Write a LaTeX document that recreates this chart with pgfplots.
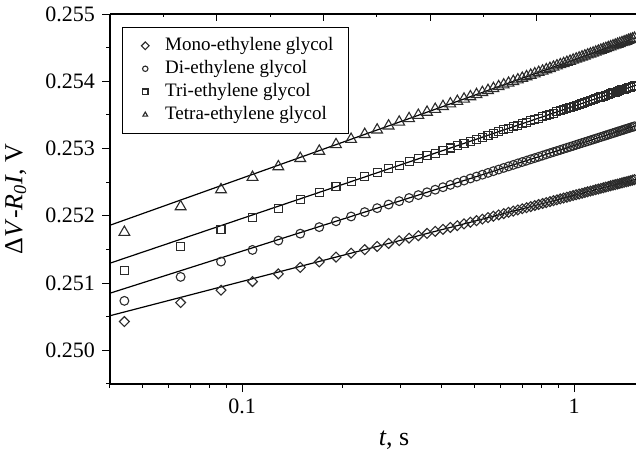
\documentclass[border=0pt]{standalone}
\usepackage{fontspec}
\setmainfont{Liberation Serif}
\usepackage{pgfplots}
\usepackage{pgfplotstable}
\pgfplotsset{compat=1.18}
\definecolor{markc}{HTML}{2B2B2B}

% t (s) and Delta V - R0 I (V) for the four glycols
\pgfplotstableread{
t      mono     di       tri      tetra
0.0442 0.250428 0.250736 0.251181 0.251756
0.0653 0.250710 0.251092 0.251548 0.252137
0.0864 0.250894 0.251320 0.251790 0.252389
0.1075 0.251023 0.251493 0.251969 0.252574
0.1286 0.251137 0.251632 0.252113 0.252731
0.1497 0.251234 0.251735 0.252238 0.252854
0.1708 0.251314 0.251832 0.252341 0.252962
0.1919 0.251387 0.251919 0.252433 0.253059
0.2130 0.251445 0.251990 0.252509 0.253138
0.2341 0.251497 0.252055 0.252578 0.253211
0.2552 0.251545 0.252114 0.252640 0.253277
0.2763 0.251589 0.252168 0.252698 0.253337
0.2974 0.251630 0.252218 0.252751 0.253394
0.3185 0.251668 0.252265 0.252801 0.253446
0.3396 0.251704 0.252308 0.252847 0.253495
0.3607 0.251738 0.252350 0.252891 0.253541
0.3818 0.251769 0.252388 0.252932 0.253584
0.4029 0.251799 0.252425 0.252971 0.253626
0.4240 0.251827 0.252460 0.253008 0.253665
0.4451 0.251854 0.252493 0.253044 0.253702
0.4662 0.251880 0.252524 0.253077 0.253737
0.4873 0.251905 0.252555 0.253109 0.253771
0.5084 0.251928 0.252584 0.253140 0.253803
0.5295 0.251951 0.252611 0.253169 0.253834
0.5506 0.251973 0.252638 0.253198 0.253864
0.5717 0.251994 0.252664 0.253225 0.253893
0.5928 0.252014 0.252688 0.253251 0.253921
0.6139 0.252033 0.252712 0.253277 0.253947
0.6350 0.252052 0.252735 0.253301 0.253973
0.6561 0.252070 0.252757 0.253325 0.253998
0.6772 0.252088 0.252779 0.253348 0.254022
0.6983 0.252105 0.252800 0.253370 0.254046
0.7194 0.252121 0.252820 0.253392 0.254069
0.7405 0.252137 0.252840 0.253413 0.254091
0.7616 0.252153 0.252859 0.253433 0.254112
0.7827 0.252168 0.252878 0.253453 0.254133
0.8038 0.252183 0.252896 0.253472 0.254153
0.8249 0.252197 0.252914 0.253491 0.254173
0.8460 0.252211 0.252931 0.253509 0.254192
0.8671 0.252225 0.252948 0.253527 0.254211
0.8882 0.252238 0.252964 0.253545 0.254230
0.9093 0.252252 0.252980 0.253562 0.254248
0.9304 0.252264 0.252996 0.253578 0.254265
0.9515 0.252277 0.253011 0.253594 0.254282
0.9726 0.252289 0.253026 0.253610 0.254299
0.9937 0.252301 0.253040 0.253626 0.254316
1.0148 0.252313 0.253055 0.253641 0.254332
1.0359 0.252324 0.253069 0.253656 0.254347
1.0570 0.252335 0.253083 0.253671 0.254363
1.0781 0.252346 0.253096 0.253685 0.254378
1.0992 0.252357 0.253109 0.253699 0.254393
1.1203 0.252368 0.253122 0.253713 0.254407
1.1414 0.252378 0.253135 0.253727 0.254421
1.1625 0.252388 0.253147 0.253740 0.254435
1.1836 0.252398 0.253160 0.253753 0.254449
1.2047 0.252408 0.253172 0.253766 0.254463
1.2258 0.252418 0.253184 0.253778 0.254476
1.2469 0.252427 0.253195 0.253791 0.254489
1.2680 0.252436 0.253207 0.253803 0.254502
1.2891 0.252446 0.253218 0.253815 0.254514
1.3102 0.252455 0.253229 0.253827 0.254527
1.3313 0.252463 0.253240 0.253838 0.254539
1.3524 0.252472 0.253251 0.253850 0.254551
1.3735 0.252481 0.253261 0.253861 0.254563
1.3946 0.252489 0.253272 0.253872 0.254575
1.4157 0.252498 0.253282 0.253883 0.254586
1.4368 0.252506 0.253292 0.253893 0.254597
1.4579 0.252514 0.253302 0.253904 0.254609
1.4790 0.252522 0.253312 0.253914 0.254620
1.5001 0.252530 0.253321 0.253925 0.254630
1.5212 0.252538 0.253331 0.253935 0.254641
1.5423 0.252545 0.253340 0.253945 0.254652
}\glycol

\pgfplotsset{
  datamark/.style={only marks, mark size=#1, mark options={draw=markc, fill=none, line width=0.55pt}},
  fitline/.style={black, line width=0.6pt, no marks, forget plot},
}

\begin{document}
\begin{tikzpicture}
\begin{axis}[
  scale only axis, width=263pt, height=185pt,
  xmode=log, xmin=0.04, xmax=1.537, ymin=0.2495, ymax=0.255,
  axis x line*=bottom, axis y line*=left,
  axis line style={line width=0.6pt},
  tick align=outside, major tick length=4pt, minor tick length=2pt,
  tick style={black, line width=0.5pt},
  xtick={0.1,1}, xticklabels={0.1,1},
  minor xtick={0.04,0.05,0.06,0.07,0.08,0.09,0.2,0.3,0.4,0.5,0.6,0.7,0.8,0.9},
  ytick={0.250,0.251,0.252,0.253,0.254,0.255},
  minor ytick={0.2495,0.2505,0.2515,0.2525,0.2535,0.2545},
  scaled y ticks=false,
  yticklabel style={/pgf/number format/fixed, /pgf/number format/fixed zerofill,
    /pgf/number format/precision=3, /pgf/number format/assume math mode=true},
  tick label style={font=\fontsize{11}{13}\selectfont},
  label style={font=\fontsize{13}{15}\selectfont},
  xlabel={\textit{t}, s},
  ylabel={Δ\textit{V}-\textit{R}\textsubscript{\textit{0}}\textit{I}, V},
  xlabel style={at={(axis description cs:0.54,-0.151)}, anchor=center},
  ylabel style={at={(axis description cs:-0.179,0.5)}, anchor=center},
  legend style={at={(axis description cs:0.0222,0.966)}, anchor=north west,
    draw=black, line width=0.5pt, font=\fontsize{9.5}{11}\selectfont,
    inner xsep=4.5pt, inner ysep=4.8pt, row sep=2.4pt, cells={anchor=west},
    nodes={inner ysep=0.5pt, inner xsep=3pt}},
  legend image code/.code={\path (0pt,0pt) (13.5pt,0pt);
    \draw[mark size=1.35pt] plot coordinates {(6.8pt,0pt)};},
]
\addplot[datamark=1.75pt, mark=square, mark options={rotate=45, draw=markc, fill=none, line width=0.55pt}] table[x=t, y=mono] {\glycol};
\addlegendentry{Mono-ethylene glycol}
\addplot[datamark=2.2pt, mark=o] table[x=t, y=di] {\glycol};
\addlegendentry{Di-ethylene glycol}
\addplot[datamark=2pt, mark=square] table[x=t, y=tri] {\glycol};
\addlegendentry{Tri-ethylene glycol}
\addplot[datamark=3.1pt, mark=triangle] table[x=t, y=tetra] {\glycol};
\addlegendentry{Tetra-ethylene glycol}

\addplot[fitline] coordinates {(0.04,0.250515) (1.55,0.252548)};
\addplot[fitline] coordinates {(0.04,0.250850) (1.55,0.253344)};
\addplot[fitline] coordinates {(0.04,0.251296) (1.55,0.253948)};
\addplot[fitline] coordinates {(0.04,0.251860) (1.55,0.254655)};
\end{axis}

% top and right frame: independent tick marks, no labels
\begin{axis}[
  scale only axis, width=263pt, height=185pt,
  xmin=0, xmax=526, ymin=0, ymax=370,
  axis x line*=top, axis y line*=right,
  x axis line style={line width=0.6pt}, y axis line style={draw=none},
  tick align=inside, major tick length=3.3pt, minor tick length=1.6pt,
  tick style={black, line width=0.5pt},
  xtick={106.7,213.3,320,426.7}, minor xtick={53.3,160,266.7,373.3,480},
  ytick=\empty, minor ytick={74,148,222,296},
  xticklabels={}, yticklabels={},
]
\end{axis}

\pgfresetboundingbox
\path ([shift={(-55pt,-35pt)}]current axis.south west) rectangle ([shift={(0pt,7pt)}]current axis.north east);
\end{tikzpicture}
\end{document}
